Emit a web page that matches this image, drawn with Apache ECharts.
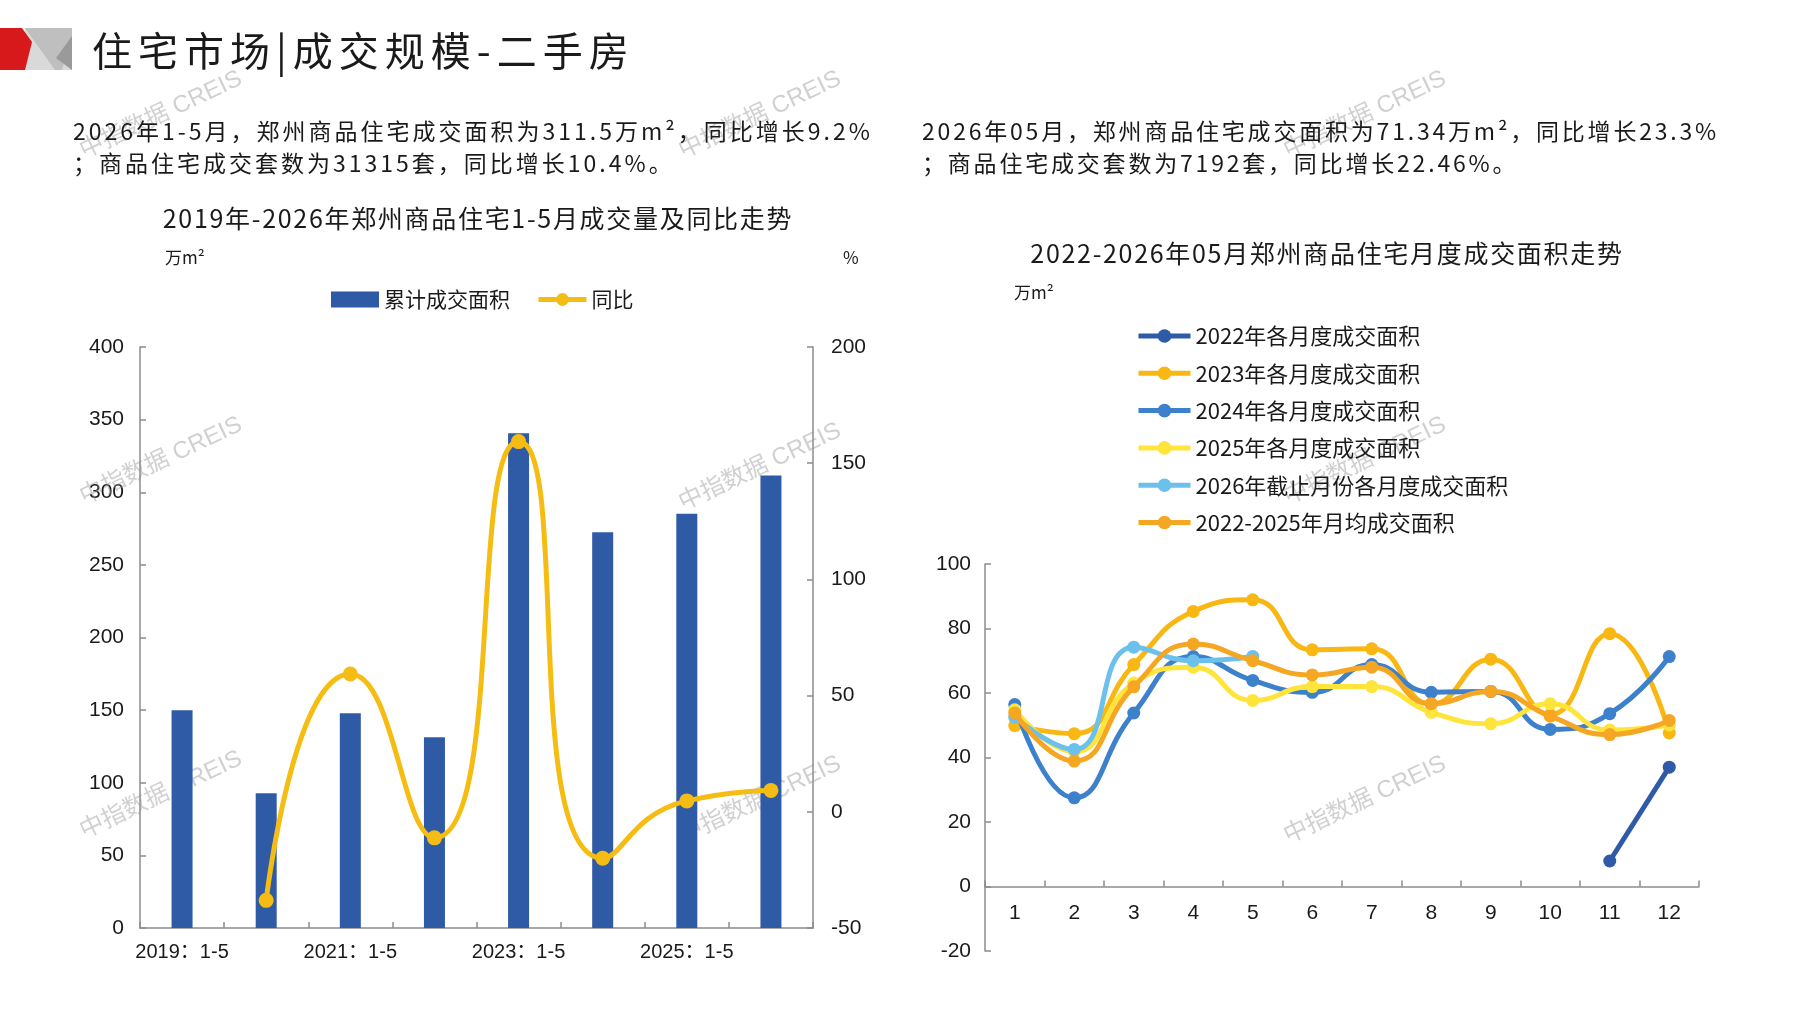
<!DOCTYPE html>
<html><head><meta charset="utf-8">
<script src="https://cdn.jsdelivr.net/npm/echarts@6/dist/echarts.min.js"></script>
<style>
html,body{margin:0;padding:0;background:#fff;}
#wrap{position:relative;width:1797px;height:1010px;overflow:hidden;background:#fff;}
#chart{position:absolute;left:0;top:0;width:1797px;height:1010px;}
.txt{position:absolute;font-family:'Noto Sans CJK SC','Noto Sans';color:#1a1a1a;white-space:nowrap;}
</style></head>
<body><div id="wrap"><div id="chart"></div>
<div class="txt" style="left:92px;top:22px;font-size:40px;letter-spacing:6px;line-height:54px;">住宅市场|成交规模-二手房</div>
<div class="txt" style="left:73px;top:114px;font-size:23px;letter-spacing:3px;line-height:32px;">2026年1-5月，郑州商品住宅成交面积为311.5万m²，同比增长9.2%<br>；商品住宅成交套数为31315套，同比增长10.4%。</div>
<div class="txt" style="left:922px;top:114px;font-size:23px;letter-spacing:2.8px;line-height:32px;">2026年05月，郑州商品住宅成交面积为71.34万m²，同比增长23.3%<br>；商品住宅成交套数为7192套，同比增长22.46%。</div>
<div class="txt" style="left:0;width:956px;text-align:center;top:200px;font-size:25px;letter-spacing:1.7px;line-height:34px;">2019年-2026年郑州商品住宅1-5月成交量及同比走势</div>
<div class="txt" style="left:1327px;transform:translateX(-50%);top:235px;font-size:25px;letter-spacing:1.7px;line-height:34px;">2022-2026年05月郑州商品住宅月度成交面积走势</div>
</div>
<script>
// ---- Left chart data ----
const periodCats = ['2019：1-5','2020：1-5','2021：1-5','2022：1-5','2023：1-5','2024：1-5','2025：1-5','2026：1-5'];
const cumArea = [150.0, 92.8, 147.8, 131.3, 340.6, 272.5, 285.2, 311.5];
const yoyPct = [null, -38.1, 59.3, -11.2, 159.3, -20.0, 4.7, 9.2];
const leftYTicks = {min: 0, max: 400, interval: 50};
const rightYTicks = {min: -50, max: 200, interval: 50};

// ---- Right chart data ----
const monthCats = ['1','2','3','4','5','6','7','8','9','10','11','12'];
const area2022 = [null, null, null, null, null, null, null, null, null, null, 7.9, 37.0];
const area2023 = [49.9, 47.4, 68.8, 85.3, 88.9, 73.4, 73.7, 56.5, 70.5, 53.3, 78.4, 47.6];
const area2024 = [56.4, 27.5, 53.8, 71.3, 63.9, 60.2, 68.8, 60.2, 60.5, 48.7, 53.6, 71.3];
const area2025 = [54.8, 41.8, 63.1, 68.0, 57.7, 62.0, 62.0, 54.0, 50.5, 56.7, 48.5, 50.1];
const area2026 = [52.5, 42.5, 74.2, 70.0, 71.34];
const areaAvg = [53.8, 38.9, 61.9, 75.2, 70.0, 65.6, 68.0, 56.7, 60.5, 52.8, 47.1, 51.5];
const monthYTicks = {min: -20, max: 100, interval: 20};

const seriesNames = ['2022年各月度成交面积','2023年各月度成交面积','2024年各月度成交面积','2025年各月度成交面积','2026年截止月份各月度成交面积','2022-2025年月均成交面积'];
const seriesData = [area2022, area2023, area2024, area2025, area2026, areaAvg];
const seriesColors = ['#2E5AA8','#F8B712','#3D80CC','#FFE43C','#6CC0EC','#F5A623'];

const CJK = "'Noto Sans CJK SC','Noto Sans'";
const NUM = "'Liberation Sans','Noto Sans CJK SC'";
const axisGray = '#8c8c8c';
const txtColor = '#1a1a1a';

const chart = echarts.init(document.getElementById('chart'), null, {renderer: 'canvas'});

function axisCommon() {
  return {
    axisLine: {show: true, lineStyle: {color: axisGray, width: 1.5}},
    axisTick: {show: true, inside: true, length: 6, lineStyle: {color: axisGray, width: 1.5}},
    splitLine: {show: false},
    axisLabel: {color: txtColor, fontSize: 21, fontFamily: NUM}
  };
}

function textEl(x, y, text, size, opts) {
  opts = opts || {};
  return {
    type: 'text', x: x, y: y, z: 10,
    style: {
      text: text, fill: txtColor, fontSize: size, fontFamily: CJK,
      align: opts.align || 'left', verticalAlign: 'middle',
      textAlign: opts.align || 'left', textVerticalAlign: 'middle'
    }
  };
}

const wmPos = [[161,115],[760,115],[1365,115],[161,461],[760,467],[1365,461],[161,795],[760,800],[1365,800]];
const watermarks = wmPos.map(p => ({
  type: 'text', x: p[0], y: p[1], rotation: 0.44, z: 1, silent: true,
  style: {text: '中指数据 CREIS', fill: 'rgba(150,150,150,0.45)', fontSize: 24, fontFamily: "'Liberation Sans','Noto Sans CJK SC'",
    align: 'center', verticalAlign: 'middle', textAlign: 'center', textVerticalAlign: 'middle'}
}));

const logo = [
  {type: 'rect', shape: {x: 25, y: 28, width: 47, height: 42}, style: {fill: '#d9d9d9'}, z: 2},
  {type: 'polygon', shape: {points: [[25,28],[72,28],[72,38],[62,70],[55,70]]}, style: {fill: '#bfbfbf'}, z: 3},
  {type: 'polygon', shape: {points: [[72,36],[72,70],[56,58]]}, style: {fill: '#9a9a9a'}, z: 4},
  {type: 'polygon', shape: {points: [[0,28],[22,28],[32,42],[25,70],[0,70]]}, style: {fill: '#D7191C'}, z: 5}
];

const option = {
  backgroundColor: '#ffffff',
  animation: false,
  graphic: {elements: [].concat(logo, watermarks, [
    textEl(165, 258, '万m²', 17),
    textEl(843, 258, '%', 17),
    textEl(1014, 293, '万m²', 17)
  ])},
  legend: [
    {
      left: 326, top: 284, itemWidth: 48, itemHeight: 16, itemGap: 26,
      lineStyle: {width: 5},
      textStyle: {fontSize: 21, fontFamily: CJK, color: txtColor},
      data: [{name: '累计成交面积', icon: 'rect', itemStyle: {}}, {name: '同比'}]
    },
    {
      orient: 'vertical', left: 1131, top: 318, itemWidth: 52, itemHeight: 17, itemGap: 11.3,
      lineStyle: {width: 5},
      textStyle: {fontSize: 22, fontFamily: CJK, color: txtColor, lineHeight: 26},
      data: seriesNames
    }
  ],
  grid: [
    {left: 140, top: 347, width: 673, height: 581, containLabel: false},
    {left: 985, top: 564, width: 714, height: 387, containLabel: false}
  ],
  xAxis: [
    Object.assign(axisCommon(), {
      type: 'category', gridIndex: 0, data: periodCats, boundaryGap: true,
      axisTick: {show: true, inside: true, length: 6, interval: 0, lineStyle: {color: axisGray, width: 1.5}},
      axisLabel: {color: txtColor, fontSize: 20, fontFamily: NUM, interval: 1, margin: 14}
    }),
    Object.assign(axisCommon(), {
      type: 'category', gridIndex: 1, data: monthCats, boundaryGap: true,
      axisLine: {show: true, onZero: true, lineStyle: {color: axisGray, width: 1.5}},
      axisTick: {show: true, inside: true, length: 6, interval: 0, lineStyle: {color: axisGray, width: 1.5}},
      axisLabel: {color: txtColor, fontSize: 21, fontFamily: NUM, interval: 0, margin: -48}
    })
  ],
  yAxis: [
    Object.assign(axisCommon(), {type: 'value', gridIndex: 0, position: 'left', min: leftYTicks.min, max: leftYTicks.max, interval: leftYTicks.interval,
      axisLabel: {color: txtColor, fontSize: 21, fontFamily: NUM, margin: 16}}),
    Object.assign(axisCommon(), {type: 'value', gridIndex: 0, position: 'right', min: rightYTicks.min, max: rightYTicks.max, interval: rightYTicks.interval,
      axisLabel: {color: txtColor, fontSize: 21, fontFamily: NUM, margin: 18}}),
    Object.assign(axisCommon(), {type: 'value', gridIndex: 1, position: 'left', min: monthYTicks.min, max: monthYTicks.max, interval: monthYTicks.interval,
      axisLabel: {color: txtColor, fontSize: 21, fontFamily: NUM, margin: 14}})
  ],
  series: [
    {name: '累计成交面积', type: 'bar', xAxisIndex: 0, yAxisIndex: 0, data: cumArea, barWidth: 21,
      itemStyle: {color: '#2F5AA6'}, z: 2},
    {name: '同比', type: 'line', xAxisIndex: 0, yAxisIndex: 1, data: yoyPct, smooth: 0.6,
      symbol: 'circle', symbolSize: 15, lineStyle: {color: '#F5BD14', width: 5},
      itemStyle: {color: '#F5BD14'}, z: 3}
  ].concat(seriesNames.map((n, i) => ({
    name: n, type: 'line', xAxisIndex: 1, yAxisIndex: 2, data: seriesData[i], smooth: 0.5,
    symbol: 'circle', symbolSize: 13, connectNulls: false,
    lineStyle: {color: seriesColors[i], width: 5},
    itemStyle: {color: seriesColors[i]}, z: 3 + i
  })))
};
chart.setOption(option);
</script>
</body></html>
